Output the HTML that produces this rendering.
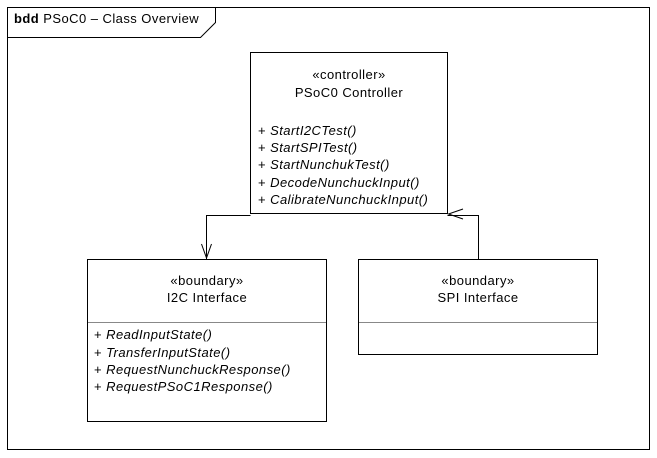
<!DOCTYPE html>
<html><head><meta charset="utf-8"><style>
html,body{margin:0;padding:0;background:#fff;}
svg{display:block;}
text{font-family:"Liberation Sans",Arial,sans-serif;font-size:13px;letter-spacing:0.45px;fill:#000;}
.i{font-style:italic;}
</style></head><body>
<svg width="657" height="458" viewBox="0 0 657 458" xmlns="http://www.w3.org/2000/svg">
<rect x="7.5" y="7.5" width="642" height="442" fill="none" stroke="#000"/>
<path d="M7.5 37.5 H200.5 L215.5 22.5 V7.5" fill="none" stroke="#000"/>
<text x="14" y="23"><tspan font-weight="bold">bdd</tspan> PSoC0 – Class Overview</text>

<rect x="250.5" y="52.5" width="197" height="161" fill="#fff" stroke="#000"/>
<text x="349" y="79" text-anchor="middle">«controller»</text>
<text x="349" y="97" text-anchor="middle">PSoC0 Controller</text>
<text x="258" y="135">+ <tspan class="i">StartI2CTest()</tspan></text>
<text x="258" y="152">+ <tspan class="i">StartSPITest()</tspan></text>
<text x="258" y="169">+ <tspan class="i">StartNunchukTest()</tspan></text>
<text x="258" y="187">+ <tspan class="i">DecodeNunchuckInput()</tspan></text>
<text x="258" y="204">+ <tspan class="i">CalibrateNunchuckInput()</tspan></text>

<path d="M250.5 215.5 H206.5 V259" fill="none" stroke="#000"/>
<path d="M201.5 244 L206.5 258 L211.5 244" fill="none" stroke="#000"/>
<path d="M478.5 259 V215.5 H447.5" fill="none" stroke="#000"/>
<path d="M463 209 L448.5 214 L463 219" fill="none" stroke="#000"/>

<rect x="87.5" y="259.5" width="239" height="162" fill="#fff" stroke="#000"/>
<line x1="88" y1="322.5" x2="326" y2="322.5" stroke="#888"/>
<text x="207" y="285" text-anchor="middle">«boundary»</text>
<text x="207" y="302" text-anchor="middle">I2C Interface</text>
<text x="94" y="339">+ <tspan class="i">ReadInputState()</tspan></text>
<text x="94" y="357">+ <tspan class="i">TransferInputState()</tspan></text>
<text x="94" y="374">+ <tspan class="i">RequestNunchuckResponse()</tspan></text>
<text x="94" y="391">+ <tspan class="i">RequestPSoC1Response()</tspan></text>

<rect x="358.5" y="259.5" width="239" height="95" fill="#fff" stroke="#000"/>
<line x1="359" y1="322.5" x2="597" y2="322.5" stroke="#888"/>
<text x="478" y="285" text-anchor="middle">«boundary»</text>
<text x="478" y="302" text-anchor="middle">SPI Interface</text>
</svg>
</body></html>
